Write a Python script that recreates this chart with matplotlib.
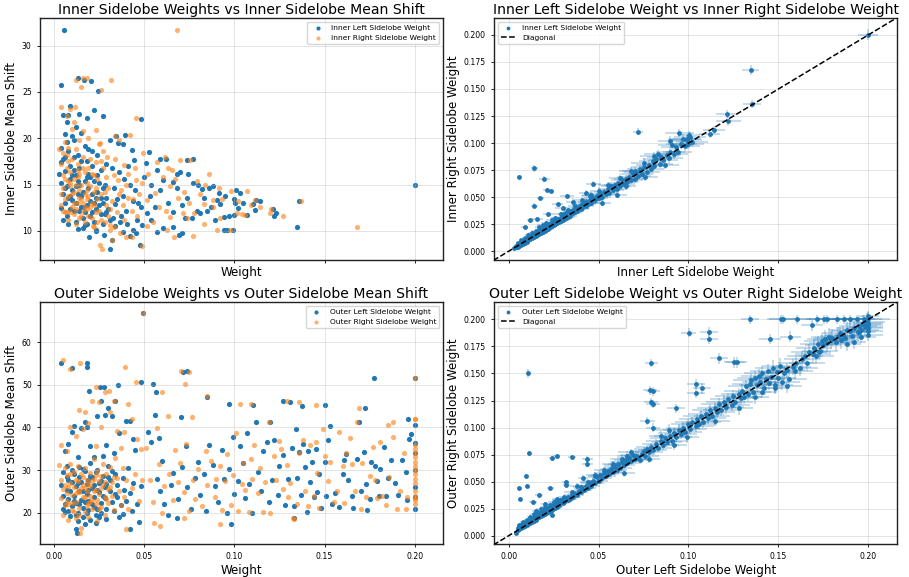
import matplotlib
matplotlib.use("Agg")
import matplotlib.pyplot as plt
import numpy as np

# ── top-left: inner sidelobe weight vs mean shift ────────────────────────────
inner_left_pts = [
    (0.0056, 31.7), (0.0041, 25.75), (0.013, 26.5), (0.0167, 26.3), (0.0207, 26.2),
    (0.0241, 25.1), (0.022, 23.05), (0.0272, 22.4), (0.0483, 22.05), (0.0087, 23.5),
    (0.0052, 22.5), (0.0139, 22.6), (0.0183, 22.2), (0.0343, 20.3), (0.0396, 20.35),
    (0.0352, 19.5), (0.038, 19.4), (0.043, 18.7), (0.0443, 17.7), (0.0526, 18.5),
    (0.0587, 17.8), (0.0619, 17.8), (0.0769, 17.8), (0.0735, 17.65), (0.0509, 17.3),
    (0.0569, 16.6), (0.0683, 16.15), (0.0744, 16.2), (0.07, 16.4), (0.0661, 15.3),
    (0.0606, 15.5), (0.054, 15.0), (0.0796, 15.0), (0.0883, 14.8), (0.082, 14.5),
    (0.0913, 14.1), (0.101, 14.4), (0.103, 14.1), (0.1, 13.4), (0.1006, 13.0),
    (0.102, 12.45), (0.1, 11.7), (0.0943, 11.55), (0.0994, 10.1), (0.0957, 10.1),
    (0.094, 10.1), (0.112, 13.3), (0.1143, 13.25), (0.1106, 12.9), (0.1117, 12.25),
    (0.1213, 12.4), (0.1217, 11.6), (0.123, 11.9), (0.107, 11.7), (0.1348, 10.4),
    (0.1356, 13.25), (0.2, 15.0), (0.0902, 13.35), (0.0869, 12.6), (0.085, 12.1),
    (0.081, 11.9), (0.0763, 11.4), (0.0726, 11.4), (0.0707, 9.75), (0.066, 10.4),
    (0.0694, 9.6), (0.0606, 10.3), (0.0569, 9.85), (0.054, 11.2), (0.0513, 11.9),
    (0.0467, 13.0), (0.0476, 8.5), (0.0309, 8.0), (0.0319, 9.0), (0.0276, 9.57),
    (0.0194, 9.3), (0.0235, 10.1), (0.0161, 10.3), (0.0383, 9.93), (0.042, 9.46),
    (0.0457, 9.75), (0.0439, 10.1), (0.0402, 10.8), (0.0365, 11.0), (0.0337, 10.5),
    (0.0328, 11.4),
    (0.004, 19.0), (0.005, 17.8), (0.006, 16.5), (0.004, 15.2), (0.005, 14.0),
    (0.006, 13.0), (0.004, 12.5), (0.007, 11.6), (0.008, 10.8), (0.006, 20.5),
    (0.007, 21.8), (0.008, 18.6), (0.009, 17.0), (0.009, 15.6), (0.010, 14.4),
    (0.010, 13.3), (0.011, 12.1), (0.012, 11.0), (0.013, 10.2), (0.011, 19.8),
    (0.012, 21.2), (0.013, 18.2), (0.014, 16.8), (0.014, 15.0), (0.015, 13.8),
    (0.016, 12.6), (0.016, 11.4), (0.017, 10.6), (0.015, 20.6), (0.017, 19.2),
    (0.018, 17.6), (0.019, 16.2), (0.019, 14.6), (0.020, 13.2), (0.021, 12.0),
    (0.022, 11.0), (0.023, 10.0), (0.021, 17.0), (0.022, 15.4), (0.024, 14.2),
    (0.025, 12.8), (0.026, 11.8), (0.027, 10.8), (0.024, 18.2), (0.026, 16.6),
    (0.028, 15.0), (0.029, 13.6), (0.030, 12.4), (0.031, 11.2), (0.008, 22.5),
    (0.010, 20.2), (0.012, 16.0), (0.013, 14.0), (0.018, 12.8), (0.020, 15.8),
    (0.023, 13.6), (0.027, 13.0), (0.029, 17.2), (0.031, 19.8), (0.033, 14.6),
    (0.034, 12.9), (0.036, 16.4), (0.038, 13.8), (0.040, 12.2), (0.042, 15.0),
    (0.044, 13.2), (0.046, 11.2), (0.005, 11.2), (0.009, 12.4), (0.007, 14.8),
    (0.011, 16.6), (0.015, 17.5), (0.019, 18.8), (0.014, 12.1), (0.018, 10.8),
    (0.022, 13.0), (0.003, 16.2), (0.006, 18.0), (0.008, 13.6), (0.012, 14.8),
    (0.017, 15.4), (0.021, 14.0), (0.025, 15.2), (0.028, 11.8),
    (0.004, 17.4), (0.006, 14.6), (0.007, 19.6), (0.009, 13.8), (0.010, 16.0),
    (0.011, 18.0), (0.012, 13.0), (0.013, 15.4), (0.015, 12.6), (0.016, 14.2),
    (0.017, 12.0), (0.018, 15.8), (0.020, 11.6), (0.021, 18.6), (0.023, 12.4),
    (0.024, 16.0), (0.026, 13.6), (0.027, 14.6), (0.029, 12.0), (0.032, 16.8),
    (0.035, 13.4), (0.037, 11.6), (0.039, 15.6), (0.041, 17.0), (0.045, 14.4),
    (0.048, 12.6), (0.050, 15.8), (0.049, 10.6),
    (0.053, 13.8), (0.056, 12.6), (0.059, 14.4), (0.063, 13.0), (0.066, 12.0),
    (0.068, 14.6), (0.071, 12.8), (0.074, 13.6), (0.077, 15.2), (0.079, 12.2),
    (0.083, 13.6), (0.086, 14.6), (0.089, 11.2), (0.092, 12.9), (0.095, 13.8),
    (0.097, 11.6), (0.105, 13.0),
]

inner_right_pts = [
    (0.0681, 31.7), (0.1678, 10.4), (0.1369, 13.25), (0.1269, 11.6), (0.1198, 11.9),
    (0.1202, 12.35), (0.1143, 12.6), (0.1069, 14.35), (0.1115, 13.35), (0.1093, 12.8),
    (0.1059, 11.7), (0.1013, 11.9), (0.0976, 10.1), (0.0902, 10.1), (0.0861, 16.15),
    (0.0913, 14.6), (0.0837, 15.0), (0.0883, 13.35), (0.0809, 14.0), (0.0778, 11.9),
    (0.0831, 10.7), (0.0772, 9.46), (0.0665, 9.3), (0.0624, 10.1), (0.0643, 11.55),
    (0.0713, 11.9), (0.0735, 11.4), (0.0754, 17.65), (0.0698, 17.7), (0.0615, 17.95),
    (0.0656, 16.6), (0.0606, 15.85), (0.0643, 14.8), (0.0559, 14.1), (0.0513, 13.35),
    (0.0494, 18.4), (0.0457, 22.15), (0.042, 20.35), (0.0337, 20.2), (0.0263, 25.2),
    (0.0315, 26.3), (0.0161, 26.5), (0.0183, 26.5), (0.0152, 25.5), (0.012, 26.3),
    (0.0041, 23.35), (0.0115, 23.4), (0.0235, 20.85), (0.0254, 19.45), (0.0291, 18.0),
    (0.0387, 17.1), (0.0411, 16.2), (0.0356, 15.5), (0.0457, 15.5), (0.0254, 8.5),
    (0.0268, 8.0), (0.0319, 9.0), (0.0398, 9.3), (0.0435, 9.3), (0.0485, 8.4),
    (0.0365, 9.75), (0.0309, 10.1), (0.0513, 10.5), (0.055, 11.0), (0.0217, 10.5),
    (0.003, 18.8), (0.004, 17.2), (0.005, 16.0), (0.005, 14.6), (0.006, 13.4),
    (0.004, 12.8), (0.007, 12.0), (0.008, 11.2), (0.006, 19.6), (0.007, 22.4),
    (0.008, 17.6), (0.009, 16.4), (0.009, 15.2), (0.010, 14.0), (0.011, 13.0),
    (0.011, 11.8), (0.012, 10.8), (0.010, 21.0), (0.012, 18.8), (0.013, 17.2),
    (0.013, 15.8), (0.014, 14.4), (0.015, 13.4), (0.016, 12.2), (0.017, 11.0),
    (0.014, 19.8), (0.016, 18.0), (0.017, 16.4), (0.018, 15.2), (0.019, 13.8),
    (0.020, 12.6), (0.021, 11.4), (0.022, 10.4), (0.020, 17.8), (0.022, 16.0),
    (0.023, 14.6), (0.024, 13.4), (0.025, 12.2), (0.026, 11.2), (0.025, 19.4),
    (0.027, 16.8), (0.028, 14.2), (0.029, 12.8), (0.030, 11.6), (0.031, 10.6),
    (0.009, 23.2), (0.011, 21.8), (0.008, 13.8), (0.012, 15.0), (0.015, 11.6),
    (0.018, 12.4), (0.019, 20.0), (0.021, 13.0), (0.024, 15.6), (0.027, 18.6),
    (0.030, 14.6), (0.032, 13.2), (0.034, 17.8), (0.035, 12.0), (0.037, 14.4),
    (0.039, 11.2), (0.041, 13.6), (0.043, 12.2), (0.045, 16.8), (0.047, 14.0),
    (0.006, 15.6), (0.010, 12.6), (0.013, 13.0), (0.017, 14.0), (0.023, 12.0),
    (0.028, 11.0), (0.033, 10.4), (0.036, 19.8), (0.016, 20.8), (0.007, 18.2),
    (0.005, 12.2), (0.009, 14.8), (0.014, 16.2), (0.018, 13.4), (0.022, 14.2),
    (0.004, 14.0), (0.005, 18.4), (0.006, 12.0), (0.007, 16.8), (0.008, 15.4),
    (0.008, 19.0), (0.009, 12.0), (0.010, 17.8), (0.011, 15.6), (0.011, 14.2),
    (0.012, 12.4), (0.013, 16.6), (0.014, 11.4), (0.014, 13.6), (0.015, 15.0),
    (0.016, 16.8), (0.016, 13.0), (0.017, 12.6), (0.018, 14.4), (0.019, 11.6),
    (0.019, 16.8), (0.020, 14.8), (0.021, 16.2), (0.022, 12.8), (0.023, 17.4),
    (0.024, 11.0), (0.026, 14.0), (0.026, 17.6), (0.029, 15.8), (0.031, 12.4),
    (0.033, 16.0), (0.036, 14.0), (0.038, 12.8), (0.040, 15.0), (0.044, 13.4),
    (0.046, 11.6), (0.049, 15.2),
    (0.052, 16.2), (0.057, 17.4), (0.063, 16.8), (0.067, 15.6), (0.072, 14.2),
    (0.075, 13.0), (0.058, 12.6), (0.062, 12.2), (0.069, 13.6), (0.079, 15.4),
    (0.083, 12.9), (0.088, 12.6), (0.093, 13.4), (0.098, 14.3), (0.102, 13.2),
    (0.104, 11.8), (0.092, 11.4),
]

# ── bottom-left: outer sidelobe weight vs mean shift ─────────────────────────
outer_left_pts = [
    (0.004, 26.5), (0.005, 24.0), (0.006, 22.0), (0.005, 29.5), (0.007, 31.0),
    (0.006, 20.2), (0.008, 27.8), (0.009, 25.0), (0.008, 23.2), (0.010, 21.5),
    (0.009, 19.2), (0.011, 29.0), (0.012, 26.2), (0.011, 24.0), (0.012, 22.4),
    (0.013, 20.0), (0.013, 18.0), (0.014, 30.8), (0.015, 27.2), (0.014, 25.2),
    (0.015, 23.0), (0.016, 21.2), (0.016, 19.0), (0.017, 17.4), (0.017, 29.8),
    (0.018, 26.8), (0.018, 24.5), (0.019, 22.8), (0.019, 20.6), (0.020, 18.4),
    (0.020, 31.6), (0.021, 28.4), (0.021, 25.8), (0.022, 23.6), (0.022, 21.4),
    (0.023, 19.4), (0.023, 17.6), (0.024, 30.0), (0.025, 27.0), (0.025, 24.8),
    (0.026, 22.2), (0.026, 20.0), (0.027, 33.4), (0.027, 28.6), (0.028, 26.0),
    (0.028, 23.4), (0.029, 21.0), (0.029, 18.6), (0.030, 31.0), (0.031, 27.6),
    (0.031, 25.0), (0.032, 22.6), (0.033, 20.4), (0.033, 34.0), (0.034, 29.0),
    (0.035, 26.4), (0.035, 23.8), (0.036, 19.0), (0.037, 21.8), (0.038, 28.2),
    (0.039, 25.4), (0.040, 22.8), (0.041, 30.4), (0.042, 24.6), (0.043, 20.4),
    (0.044, 27.0), (0.045, 34.8), (0.046, 22.0), (0.047, 17.8), (0.048, 26.2),
    (0.006, 34.6), (0.008, 36.2), (0.010, 39.0), (0.011, 40.4), (0.013, 33.0),
    (0.015, 39.8), (0.017, 41.2), (0.018, 40.2), (0.020, 35.6), (0.022, 33.0),
    (0.024, 42.8), (0.026, 46.2), (0.028, 43.0), (0.029, 35.8), (0.030, 44.6),
    (0.032, 42.6), (0.034, 46.2), (0.036, 38.8), (0.040, 41.6), (0.042, 41.6),
    (0.044, 37.2), (0.007, 25.4), (0.010, 27.2), (0.014, 22.0), (0.019, 27.6),
    (0.024, 21.0), (0.030, 28.4),
    (0.005, 21.0), (0.007, 28.4), (0.008, 20.4), (0.010, 30.0), (0.011, 22.8),
    (0.012, 19.4), (0.013, 27.0), (0.014, 28.4), (0.016, 25.0), (0.016, 30.2),
    (0.017, 22.6), (0.018, 20.0), (0.019, 25.4), (0.020, 28.6), (0.021, 22.0),
    (0.022, 26.6), (0.023, 29.6), (0.024, 25.4), (0.025, 19.0), (0.026, 27.4),
    (0.027, 24.0), (0.029, 26.8), (0.032, 29.8), (0.034, 24.4), (0.038, 19.8),
    (0.0037, 55.0), (0.0102, 54.0), (0.0185, 55.2), (0.0185, 54.2), (0.0194, 48.5),
    (0.0254, 49.4), (0.0278, 49.4), (0.0356, 50.0), (0.0481, 50.7), (0.0548, 50.3),
    (0.0563, 48.4), (0.0715, 53.0), (0.0735, 53.2), (0.0702, 42.4), (0.085, 47.2),
    (0.0969, 45.6), (0.1106, 45.2), (0.1269, 46.3), (0.131, 45.9), (0.1376, 45.1),
    (0.1504, 45.2), (0.1772, 51.5), (0.1726, 44.5), (0.2, 51.5), (0.1963, 41.9),
    (0.2, 40.5), (0.0494, 66.8), (0.0128, 15.2), (0.042, 16.1), (0.012, 16.1),
    (0.1735, 20.6), (0.2, 20.9), (0.0981, 17.3), (0.1333, 18.7),
    (0.052, 39.0), (0.054, 36.6), (0.056, 43.0), (0.058, 37.6), (0.060, 32.2),
    (0.057, 28.0), (0.059, 25.0), (0.061, 22.0), (0.063, 19.6), (0.065, 26.4),
    (0.066, 29.4), (0.068, 18.8), (0.069, 23.2), (0.071, 30.8), (0.073, 35.6),
    (0.074, 26.0), (0.076, 20.8), (0.078, 28.2), (0.080, 32.0), (0.081, 24.2),
    (0.083, 29.0), (0.084, 20.4), (0.086, 36.0), (0.088, 31.2), (0.089, 26.2),
    (0.091, 22.6), (0.093, 34.8), (0.094, 28.0), (0.096, 20.0), (0.097, 30.2),
    (0.099, 37.8), (0.100, 24.4), (0.102, 27.4), (0.103, 35.6), (0.105, 31.6),
    (0.106, 23.4), (0.107, 38.6), (0.108, 26.8), (0.110, 20.0), (0.112, 41.2),
    (0.113, 29.6), (0.115, 25.2), (0.116, 34.6), (0.118, 36.6), (0.119, 22.6),
    (0.120, 41.2), (0.121, 27.8), (0.122, 37.0), (0.124, 24.2), (0.125, 31.0),
    (0.127, 33.6), (0.128, 21.8), (0.130, 28.0), (0.132, 35.2), (0.133, 21.6),
    (0.134, 39.6), (0.135, 28.2), (0.136, 34.2), (0.137, 24.2), (0.138, 36.2),
    (0.139, 30.8), (0.140, 20.2), (0.141, 34.6), (0.142, 27.2), (0.143, 31.8),
    (0.144, 23.8), (0.145, 35.0), (0.146, 24.8), (0.147, 29.2), (0.148, 21.2),
    (0.150, 32.0), (0.151, 24.0), (0.152, 37.0), (0.153, 40.4), (0.154, 22.0),
    (0.156, 24.6), (0.158, 21.4), (0.160, 29.0), (0.161, 32.4), (0.162, 33.8),
    (0.163, 27.6), (0.165, 24.0), (0.166, 21.2), (0.168, 32.6), (0.169, 41.2),
    (0.170, 25.0), (0.172, 34.2), (0.173, 26.8), (0.175, 23.2), (0.176, 31.8),
    (0.178, 31.0), (0.179, 27.4), (0.180, 24.0), (0.181, 30.2), (0.183, 35.4),
    (0.184, 24.0), (0.185, 28.2), (0.187, 32.4), (0.189, 27.0), (0.191, 24.2),
    (0.193, 32.4), (0.195, 29.6), (0.196, 23.0), (0.197, 37.2), (0.198, 38.4),
    (0.2, 36.4), (0.2, 30.0), (0.2, 26.0), (0.2, 23.6), (0.2, 34.0),
]

outer_right_pts = [
    (0.003, 31.2), (0.004, 23.4), (0.004, 27.8), (0.005, 25.6), (0.006, 30.4),
    (0.006, 21.8), (0.007, 28.8), (0.007, 24.6), (0.008, 22.0), (0.008, 18.4),
    (0.009, 31.4), (0.009, 27.0), (0.010, 24.2), (0.010, 20.6), (0.011, 29.6),
    (0.011, 26.0), (0.012, 22.6), (0.012, 18.8), (0.013, 31.0), (0.013, 27.4),
    (0.014, 24.8), (0.014, 21.2), (0.015, 16.4), (0.015, 29.2), (0.016, 26.4),
    (0.016, 23.6), (0.017, 20.2), (0.017, 30.6), (0.018, 27.8), (0.018, 25.0),
    (0.019, 22.4), (0.019, 19.0), (0.020, 29.4), (0.020, 26.2), (0.021, 23.0),
    (0.021, 20.8), (0.022, 32.6), (0.022, 28.0), (0.023, 25.4), (0.023, 22.0),
    (0.024, 18.0), (0.024, 29.8), (0.025, 27.4), (0.025, 24.4), (0.026, 21.4),
    (0.027, 31.4), (0.027, 26.6), (0.028, 23.8), (0.028, 19.6), (0.029, 29.0),
    (0.030, 25.6), (0.030, 22.4), (0.031, 30.8), (0.032, 27.2), (0.032, 24.0),
    (0.033, 20.6), (0.034, 32.8), (0.035, 28.2), (0.036, 25.2), (0.037, 21.8),
    (0.038, 30.6), (0.039, 23.6), (0.040, 27.8), (0.041, 20.8), (0.043, 25.8),
    (0.045, 29.2), (0.047, 22.8), (0.049, 27.6), (0.006, 26.6), (0.012, 24.6),
    (0.017, 25.8), (0.020, 22.6), (0.026, 28.6),
    (0.005, 19.6), (0.007, 22.8), (0.008, 26.0), (0.009, 29.0), (0.010, 22.4),
    (0.011, 20.2), (0.012, 27.8), (0.013, 25.2), (0.014, 19.4), (0.015, 25.8),
    (0.016, 28.4), (0.017, 23.8), (0.018, 21.6), (0.019, 26.8), (0.020, 24.0),
    (0.021, 27.4), (0.022, 25.0), (0.023, 28.8), (0.024, 23.0), (0.025, 20.8),
    (0.026, 25.8), (0.028, 27.2), (0.029, 23.2), (0.031, 26.0), (0.033, 28.4),
    (0.004, 36.0), (0.007, 34.6), (0.009, 40.2), (0.012, 38.0), (0.014, 44.2),
    (0.016, 39.6), (0.017, 43.6), (0.019, 41.0), (0.021, 46.2), (0.023, 35.6),
    (0.025, 46.0), (0.026, 40.0), (0.028, 48.2), (0.031, 43.6), (0.033, 46.2),
    (0.035, 39.2), (0.037, 35.2), (0.039, 39.0), (0.041, 45.4), (0.043, 42.0),
    (0.046, 37.4), (0.048, 35.0),
    (0.0048, 55.8), (0.0143, 55.2), (0.0087, 53.6), (0.0394, 54.2), (0.0704, 53.2),
    (0.0746, 52.9), (0.0728, 50.1), (0.0454, 50.7), (0.0235, 49.5), (0.0302, 48.5),
    (0.0596, 48.3), (0.085, 47.3), (0.1031, 45.4), (0.1091, 45.6), (0.1294, 46.2),
    (0.1361, 45.9), (0.145, 45.2), (0.1693, 44.5), (0.2, 51.5), (0.2, 41.9),
    (0.0763, 42.5), (0.092, 17.3), (0.0719, 18.7), (0.1324, 18.7), (0.0143, 15.2),
    (0.0398, 16.1), (0.0494, 66.8), (0.0555, 17.5), (0.0585, 17.0),
    (0.051, 35.2), (0.053, 27.8), (0.055, 22.6), (0.057, 39.8), (0.058, 31.4),
    (0.060, 20.0), (0.061, 26.2), (0.063, 42.8), (0.064, 29.0), (0.066, 23.0),
    (0.067, 34.8), (0.069, 27.2), (0.070, 31.6), (0.072, 24.8), (0.073, 36.2),
    (0.075, 20.4), (0.077, 27.8), (0.078, 23.2), (0.080, 30.2), (0.082, 21.6),
    (0.084, 34.4), (0.085, 26.6), (0.087, 32.2), (0.089, 23.6), (0.090, 28.0),
    (0.092, 31.0), (0.093, 20.6), (0.095, 27.4), (0.096, 33.8), (0.098, 21.8),
    (0.099, 28.8), (0.101, 38.6), (0.102, 20.4), (0.104, 26.8), (0.105, 31.6),
    (0.106, 25.4), (0.108, 20.2), (0.109, 32.6), (0.110, 28.0), (0.111, 36.0),
    (0.113, 24.6), (0.114, 30.6), (0.116, 20.2), (0.117, 27.2), (0.119, 41.2),
    (0.120, 20.0), (0.122, 33.2), (0.123, 27.6), (0.125, 36.8), (0.126, 35.0),
    (0.127, 25.6), (0.129, 31.2), (0.130, 23.8), (0.131, 27.0), (0.133, 18.6),
    (0.135, 22.0), (0.136, 34.0), (0.138, 37.0), (0.139, 25.2), (0.141, 21.6),
    (0.142, 35.8), (0.144, 24.0), (0.145, 36.6), (0.146, 29.4), (0.147, 21.2),
    (0.149, 39.6), (0.150, 33.2), (0.152, 27.4), (0.153, 32.0), (0.155, 22.6),
    (0.157, 25.2), (0.158, 39.0), (0.160, 31.0), (0.161, 22.2), (0.162, 34.0),
    (0.164, 37.6), (0.165, 31.4), (0.167, 25.0), (0.168, 41.2), (0.170, 20.8),
    (0.171, 31.6), (0.173, 23.6), (0.175, 28.6), (0.177, 35.4), (0.178, 27.6),
    (0.179, 23.4), (0.181, 36.6), (0.182, 24.0), (0.184, 21.8), (0.185, 40.6),
    (0.186, 28.4), (0.188, 41.2), (0.188, 37.8), (0.190, 21.0), (0.192, 25.2),
    (0.194, 34.0), (0.195, 21.0), (0.196, 23.8), (0.2, 42.0), (0.2, 36.0),
    (0.2, 35.0), (0.2, 34.0), (0.2, 33.0), (0.2, 32.0), (0.2, 31.0), (0.2, 30.0),
    (0.2, 29.0), (0.2, 28.0), (0.2, 27.0), (0.2, 25.0), (0.2, 24.0), (0.2, 23.4),
    (0.2, 23.0), (0.2, 22.0),
]

# ── right column: left weight, right weight, x error, y error ────────────────
inner_lr_pts = [
    (0.003, 0.003, .001, .001), (0.004, 0.0035, .001, .001), (0.004, 0.005, .001, .001),
    (0.005, 0.004, .001, .001), (0.005, 0.006, .001, .001), (0.006, 0.005, .001, .001),
    (0.006, 0.007, .001, .001), (0.007, 0.006, .001, .001), (0.007, 0.008, .001, .001),
    (0.008, 0.007, .0015, .001), (0.008, 0.009, .0015, .001), (0.009, 0.008, .0015, .001),
    (0.009, 0.010, .0015, .001), (0.010, 0.009, .002, .001), (0.010, 0.011, .002, .001),
    (0.011, 0.010, .002, .001), (0.011, 0.0125, .002, .001), (0.012, 0.011, .002, .0015),
    (0.012, 0.0135, .002, .0015), (0.013, 0.012, .002, .0015), (0.013, 0.0145, .002, .0015),
    (0.014, 0.013, .002, .0015), (0.014, 0.0155, .002, .0015), (0.015, 0.014, .0025, .0015),
    (0.015, 0.0165, .0025, .0015), (0.016, 0.015, .0025, .0015), (0.016, 0.0175, .0025, .0015),
    (0.017, 0.016, .0025, .0015), (0.017, 0.019, .0025, .0015), (0.018, 0.017, .0025, .0015),
    (0.018, 0.020, .0025, .0015), (0.019, 0.018, .003, .0015), (0.019, 0.021, .003, .0015),
    (0.020, 0.019, .003, .0015), (0.020, 0.022, .003, .0015), (0.021, 0.020, .003, .0015),
    (0.021, 0.023, .003, .002), (0.022, 0.021, .003, .002), (0.022, 0.024, .003, .002),
    (0.023, 0.022, .003, .002), (0.023, 0.025, .003, .002), (0.024, 0.023, .003, .002),
    (0.024, 0.026, .003, .002), (0.025, 0.024, .003, .002), (0.025, 0.027, .003, .002),
    (0.026, 0.025, .003, .002), (0.026, 0.028, .003, .002), (0.027, 0.026, .003, .002),
    (0.027, 0.029, .003, .002), (0.028, 0.027, .0035, .002), (0.028, 0.030, .0035, .002),
    (0.029, 0.028, .0035, .002), (0.029, 0.031, .0035, .002), (0.030, 0.029, .0035, .002),
    (0.030, 0.032, .0035, .002), (0.031, 0.030, .0035, .002), (0.031, 0.034, .0035, .002),
    (0.032, 0.031, .0035, .002), (0.032, 0.035, .004, .002), (0.033, 0.032, .004, .002),
    (0.034, 0.036, .004, .0025), (0.034, 0.033, .004, .0025), (0.035, 0.037, .004, .0025),
    (0.036, 0.035, .004, .0025), (0.036, 0.038, .004, .0025), (0.037, 0.036, .004, .0025),
    (0.038, 0.040, .004, .0025), (0.038, 0.037, .004, .0025), (0.039, 0.041, .004, .0025),
    (0.040, 0.039, .0045, .0025), (0.040, 0.043, .0045, .0025), (0.041, 0.040, .0045, .0025),
    (0.042, 0.044, .0045, .0025), (0.043, 0.042, .0045, .0025), (0.043, 0.046, .0045, .003),
    (0.044, 0.044, .0045, .003), (0.045, 0.047, .005, .003), (0.046, 0.045, .005, .003),
    (0.047, 0.049, .005, .003), (0.048, 0.047, .005, .003), (0.049, 0.051, .005, .003),
    (0.050, 0.049, .005, .003), (0.051, 0.053, .005, .003), (0.052, 0.050, .005, .003),
    (0.053, 0.055, .0055, .003), (0.054, 0.053, .0055, .003), (0.055, 0.058, .0055, .003),
    (0.056, 0.054, .0055, .003), (0.057, 0.060, .0055, .003), (0.058, 0.057, .006, .003),
    (0.059, 0.061, .006, .003), (0.060, 0.058, .006, .003), (0.061, 0.063, .006, .0035),
    (0.062, 0.060, .006, .0035), (0.063, 0.066, .006, .0035), (0.064, 0.062, .006, .0035),
    (0.065, 0.067, .0065, .0035), (0.066, 0.064, .0065, .0035), (0.067, 0.069, .0065, .0035),
    (0.068, 0.066, .0065, .0035), (0.069, 0.071, .0065, .0035), (0.070, 0.067, .0065, .0035),
    (0.071, 0.073, .007, .0035), (0.072, 0.070, .007, .0035), (0.073, 0.076, .007, .004),
    (0.074, 0.071, .007, .004), (0.075, 0.078, .007, .004), (0.077, 0.073, .007, .004),
    (0.078, 0.080, .007, .004), (0.079, 0.076, .0075, .004), (0.080, 0.083, .0075, .004),
    (0.081, 0.079, .0075, .004), (0.082, 0.085, .0075, .004), (0.084, 0.081, .0075, .004),
    (0.085, 0.087, .008, .004), (0.086, 0.084, .008, .004), (0.088, 0.089, .008, .004),
    (0.089, 0.086, .008, .004), (0.090, 0.092, .008, .0045), (0.092, 0.090, .008, .0045),
    (0.093, 0.096, .008, .0045), (0.094, 0.092, .008, .0045), (0.096, 0.099, .0085, .0045),
    (0.098, 0.097, .0085, .0045), (0.099, 0.103, .0085, .0045), (0.100, 0.099, .0085, .0045),
    (0.101, 0.106, .009, .0045), (0.102, 0.101, .009, .0045),
    (0.005, 0.008, .001, .001), (0.007, 0.010, .001, .001), (0.009, 0.012, .0015, .001),
    (0.011, 0.015, .002, .001), (0.013, 0.017, .002, .0015), (0.015, 0.019, .0025, .0015),
    (0.017, 0.022, .0025, .0015), (0.019, 0.024, .003, .0015), (0.021, 0.026, .003, .002),
    (0.024, 0.029, .003, .002), (0.026, 0.031, .003, .002), (0.029, 0.034, .0035, .002),
    (0.033, 0.038, .004, .002), (0.037, 0.042, .004, .0025), (0.041, 0.047, .0045, .0025),
    (0.045, 0.051, .005, .003), (0.050, 0.056, .005, .003), (0.055, 0.061, .0055, .003),
    (0.062, 0.068, .006, .0035), (0.068, 0.074, .0065, .0035), (0.075, 0.082, .007, .004),
    (0.083, 0.090, .0075, .004), (0.091, 0.098, .008, .0045), (0.097, 0.104, .0085, .0045),
    (0.0056, 0.0684, .001, .002), (0.0143, 0.0767, .002, .003), (0.0198, 0.0666, .003, .003),
    (0.0213, 0.0567, .002, .002), (0.0235, 0.0555, .002, .002), (0.0176, 0.049, .002, .002),
    (0.0143, 0.0422, .002, .002), (0.0272, 0.0435, .003, .002), (0.0324, 0.0512, .004, .002),
    (0.0431, 0.054, .004, .003), (0.0472, 0.0623, .004, .003), (0.012, 0.0287, .002, .002),
    (0.009, 0.022, .002, .0015), (0.016, 0.030, .003, .002), (0.022, 0.034, .003, .002),
    (0.030, 0.040, .004, .002), (0.036, 0.046, .004, .003), (0.046, 0.052, .005, .003),
    (0.052, 0.045, .005, .003), (0.060, 0.052, .006, .003), (0.065, 0.060, .006, .003),
    (0.070, 0.074, .007, .004), (0.076, 0.069, .007, .004), (0.081, 0.088, .008, .004),
    (0.087, 0.080, .008, .004), (0.0719, 0.1106, .003, .003), (0.095, 0.1094, .008, .004),
    (0.0991, 0.1038, .008, .004), (0.1002, 0.1075, .006, .004), (0.0898, 0.1023, .007, .004),
    (0.1117, 0.1085, .006, .004), (0.1143, 0.1122, .006, .004), (0.1213, 0.127, .006, .004),
    (0.1222, 0.1202, .007, .004), (0.1346, 0.1676, .0046, .005), (0.1352, 0.1362, .005, .004),
    (0.2, 0.2, .0056, .005),
]

outer_lr_pts = [
    (0.004, 0.003, .001, .001), (0.005, 0.005, .001, .001), (0.005, 0.007, .001, .001),
    (0.006, 0.006, .001, .001), (0.006, 0.009, .001, .001), (0.007, 0.007, .001, .001),
    (0.007, 0.010, .001, .001), (0.008, 0.008, .0015, .001), (0.008, 0.011, .0015, .001),
    (0.009, 0.009, .0015, .001), (0.009, 0.012, .0015, .001), (0.010, 0.010, .0015, .001),
    (0.010, 0.013, .0015, .001), (0.011, 0.011, .002, .001), (0.011, 0.014, .002, .001),
    (0.012, 0.012, .002, .001), (0.012, 0.015, .002, .001), (0.013, 0.013, .002, .001),
    (0.013, 0.016, .002, .001), (0.014, 0.014, .002, .001), (0.014, 0.017, .002, .001),
    (0.015, 0.015, .002, .0015), (0.015, 0.018, .002, .0015), (0.016, 0.016, .002, .0015),
    (0.016, 0.019, .002, .0015), (0.017, 0.017, .0025, .0015), (0.017, 0.020, .0025, .0015),
    (0.018, 0.018, .0025, .0015), (0.018, 0.022, .0025, .0015), (0.019, 0.019, .0025, .0015),
    (0.019, 0.023, .0025, .0015), (0.020, 0.020, .0025, .0015), (0.020, 0.024, .0025, .0015),
    (0.021, 0.021, .003, .0015), (0.021, 0.025, .003, .0015), (0.022, 0.022, .003, .0015),
    (0.022, 0.026, .003, .0015), (0.023, 0.023, .003, .0015), (0.024, 0.027, .003, .0015),
    (0.024, 0.024, .003, .0015), (0.025, 0.029, .003, .002), (0.026, 0.026, .003, .002),
    (0.026, 0.030, .003, .002), (0.027, 0.027, .003, .002), (0.028, 0.031, .003, .002),
    (0.028, 0.028, .003, .002), (0.029, 0.033, .0035, .002), (0.030, 0.030, .0035, .002),
    (0.030, 0.034, .0035, .002), (0.031, 0.031, .0035, .002), (0.032, 0.035, .0035, .002),
    (0.033, 0.033, .0035, .002), (0.033, 0.036, .0035, .002), (0.034, 0.034, .004, .002),
    (0.035, 0.038, .004, .002), (0.036, 0.036, .004, .002), (0.037, 0.039, .004, .002),
    (0.038, 0.038, .004, .002), (0.039, 0.041, .004, .0025), (0.040, 0.040, .004, .0025),
    (0.041, 0.043, .0045, .0025), (0.042, 0.042, .0045, .0025), (0.043, 0.046, .0045, .0025),
    (0.044, 0.044, .0045, .0025), (0.045, 0.049, .0045, .0025), (0.046, 0.046, .005, .0025),
    (0.047, 0.051, .005, .0025), (0.048, 0.049, .005, .0025), (0.049, 0.054, .005, .003),
    (0.050, 0.051, .005, .003), (0.051, 0.056, .005, .003), (0.052, 0.053, .0055, .003),
    (0.053, 0.058, .0055, .003), (0.054, 0.055, .0055, .003), (0.055, 0.060, .0055, .003),
    (0.056, 0.057, .0055, .003), (0.057, 0.062, .006, .003), (0.058, 0.059, .006, .003),
    (0.059, 0.064, .006, .003), (0.060, 0.061, .006, .003), (0.061, 0.066, .006, .0035),
    (0.062, 0.063, .0065, .0035), (0.063, 0.068, .0065, .0035), (0.064, 0.065, .0065, .0035),
    (0.065, 0.070, .0065, .0035), (0.066, 0.067, .0065, .0035), (0.067, 0.072, .007, .0035),
    (0.068, 0.069, .007, .0035), (0.069, 0.075, .007, .0035), (0.070, 0.071, .007, .0035),
    (0.071, 0.074, .007, .004), (0.072, 0.073, .007, .004), (0.073, 0.070, .0075, .004),
    (0.074, 0.076, .0075, .004), (0.075, 0.078, .0075, .004), (0.076, 0.074, .0075, .004),
    (0.077, 0.080, .0075, .004), (0.078, 0.077, .008, .004), (0.079, 0.082, .008, .004),
    (0.080, 0.079, .008, .004), (0.082, 0.085, .008, .004), (0.083, 0.081, .008, .004),
    (0.085, 0.088, .0085, .0045), (0.086, 0.084, .0085, .0045), (0.087, 0.090, .0085, .0045),
    (0.088, 0.087, .0085, .0045), (0.090, 0.092, .009, .0045), (0.091, 0.088, .009, .0045),
    (0.092, 0.095, .009, .0045), (0.093, 0.091, .009, .0045), (0.095, 0.098, .009, .005),
    (0.096, 0.094, .009, .005), (0.097, 0.100, .0095, .005), (0.098, 0.096, .0095, .005),
    (0.100, 0.103, .0095, .005), (0.101, 0.099, .0095, .005), (0.102, 0.105, .0095, .005),
    (0.104, 0.101, .01, .005), (0.105, 0.108, .01, .005), (0.106, 0.103, .01, .005),
    (0.107, 0.111, .01, .005), (0.108, 0.105, .01, .005), (0.110, 0.113, .01, .0055),
    (0.111, 0.109, .01, .0055), (0.112, 0.116, .01, .0055), (0.113, 0.111, .01, .0055),
    (0.115, 0.118, .01, .0055), (0.116, 0.114, .01, .0055), (0.117, 0.122, .01, .0055),
    (0.118, 0.116, .01, .0055), (0.120, 0.124, .01, .006), (0.121, 0.119, .01, .006),
    (0.122, 0.126, .01, .006), (0.124, 0.121, .01, .006), (0.125, 0.129, .01, .006),
    (0.126, 0.124, .01, .006), (0.128, 0.131, .01, .006), (0.129, 0.127, .01, .006),
    (0.130, 0.134, .01, .006), (0.131, 0.128, .01, .006), (0.132, 0.138, .01, .006),
    (0.133, 0.131, .01, .006), (0.134, 0.140, .01, .0065), (0.135, 0.144, .01, .0065),
    (0.136, 0.133, .01, .0065), (0.137, 0.146, .01, .0065), (0.138, 0.139, .01, .0065),
    (0.139, 0.148, .01, .0065), (0.140, 0.142, .01, .0065), (0.141, 0.150, .01, .0065),
    (0.142, 0.137, .01, .0065), (0.143, 0.145, .01, .0065), (0.144, 0.152, .01, .0065),
    (0.145, 0.141, .01, .0065), (0.146, 0.147, .01, .007), (0.147, 0.155, .01, .007),
    (0.148, 0.139, .01, .007), (0.149, 0.151, .01, .007), (0.150, 0.146, .01, .007),
    (0.151, 0.157, .01, .007), (0.152, 0.142, .01, .007), (0.153, 0.150, .01, .007),
    (0.155, 0.153, .01, .007), (0.156, 0.145, .01, .007), (0.158, 0.156, .01, .007),
    (0.159, 0.152, .01, .007), (0.160, 0.160, .01, .007), (0.162, 0.155, .01, .007),
    (0.163, 0.163, .01, .0075), (0.165, 0.166, .01, .0075), (0.166, 0.160, .01, .0075),
    (0.167, 0.170, .01, .0075), (0.169, 0.168, .01, .0075), (0.170, 0.174, .01, .0075),
    (0.171, 0.166, .01, .0075), (0.172, 0.177, .01, .0075), (0.173, 0.171, .01, .0075),
    (0.174, 0.180, .01, .0075), (0.175, 0.176, .01, .0075), (0.176, 0.182, .01, .008),
    (0.177, 0.178, .01, .008), (0.178, 0.184, .01, .008), (0.179, 0.181, .01, .008),
    (0.180, 0.183, .01, .008), (0.182, 0.179, .01, .008), (0.183, 0.185, .01, .008),
    (0.184, 0.187, .01, .008), (0.185, 0.181, .01, .008), (0.186, 0.186, .01, .008),
    (0.187, 0.183, .01, .008), (0.188, 0.190, .01, .008), (0.190, 0.189, .01, .008),
    (0.191, 0.185, .01, .008), (0.192, 0.192, .01, .008), (0.194, 0.188, .01, .008),
    (0.195, 0.194, .01, .008), (0.196, 0.190, .01, .008), (0.197, 0.196, .01, .008),
    (0.198, 0.193, .01, .008), (0.199, 0.198, .01, .008), (0.2, 0.2, .012, .008),
    (0.2, 0.197, .008, .006), (0.2, 0.195, .008, .006), (0.2, 0.192, .008, .006),
    (0.2, 0.189, .008, .006), (0.2, 0.186, .008, .006), (0.2, 0.203, .006, .004),
    (0.006, 0.010, .001, .001), (0.008, 0.013, .0015, .001), (0.010, 0.015, .0015, .001),
    (0.012, 0.017, .002, .001), (0.014, 0.020, .002, .0015), (0.016, 0.022, .002, .0015),
    (0.018, 0.025, .0025, .0015), (0.020, 0.027, .0025, .0015), (0.023, 0.028, .003, .0015),
    (0.025, 0.031, .003, .002), (0.027, 0.033, .003, .002), (0.031, 0.036, .0035, .002),
    (0.035, 0.040, .004, .002), (0.040, 0.045, .004, .0025), (0.044, 0.050, .0045, .0025),
    (0.048, 0.056, .005, .003), (0.053, 0.061, .0055, .003), (0.058, 0.066, .006, .003),
    (0.063, 0.071, .0065, .0035), (0.068, 0.077, .007, .0035),
    (0.0108, 0.1501, .001, .004), (0.0111, 0.0761, .001, .002), (0.0098, 0.0555, .001, .002),
    (0.0102, 0.0459, .001, .002), (0.0058, 0.0438, .001, .002), (0.0061, 0.0342, .001, .002),
    (0.0243, 0.0715, .002, .002), (0.0267, 0.0733, .002, .002), (0.0353, 0.0727, .002, .002),
    (0.0318, 0.0499, .002, .002), (0.0321, 0.0468, .002, .002), (0.0232, 0.0441, .002, .002),
    (0.0169, 0.0376, .002, .002), (0.0136, 0.0311, .002, .002), (0.0438, 0.0706, .003, .003),
    (0.0438, 0.0663, .003, .003), (0.0414, 0.053, .003, .003), (0.0793, 0.16, .0037, .0037),
    (0.0786, 0.1344, .004, .004), (0.0804, 0.1334, .004, .004), (0.0793, 0.1233, .004, .004),
    (0.0804, 0.1217, .004, .004), (0.0772, 0.106, .004, .004), (0.0804, 0.0998, .004, .004),
    (0.1001, 0.1877, .004, .004), (0.1116, 0.1883, .005, .005), (0.1116, 0.1818, .005, .005),
    (0.1172, 0.164, .005, .005), (0.1255, 0.1603, .006, .005), (0.1268, 0.1603, .006, .005),
    (0.1343, 0.2, .005, .004), (0.1454, 0.1818, .006, .005), (0.1566, 0.184, .006, .005),
    (0.1042, 0.1402, .005, .005), (0.1042, 0.1322, .005, .005), (0.1077, 0.1362, .005, .005),
    (0.093, 0.1177, .005, .004), (0.1514, 0.2, .008, .004), (0.1528, 0.2, .008, .004),
    (0.1603, 0.2, .008, .004), (0.1715, 0.2, .01, .004), (0.1751, 0.2, .01, .004),
    (0.1770, 0.2, .01, .004), (0.1826, 0.2, .01, .004), (0.1863, 0.2, .01, .004),
    (0.1900, 0.2, .01, .004), (0.1937, 0.2, .01, .004), (0.1974, 0.2, .01, .004),
    (0.1686, 0.1945, .006, .005), (0.1947, 0.1886, .007, .006), (0.1919, 0.1787, .007, .006),
    (0.1724, 0.1701, .007, .006), (0.196, 0.184, .008, .006), (0.188, 0.177, .008, .006),
    (0.141, 0.133, .008, .006), (0.148, 0.137, .008, .006), (0.155, 0.138, .008, .006),
    (0.137, 0.128, .008, .006), (0.128, 0.118, .008, .006), (0.115, 0.106, .008, .005),
    (0.099, 0.091, .007, .005), (0.092, 0.084, .007, .005), (0.085, 0.092, .007, .005),
    (0.089, 0.098, .007, .005), (0.078, 0.071, .006, .004), (0.064, 0.058, .006, .004),
    (0.058, 0.065, .005, .004), (0.066, 0.074, .006, .004), (0.048, 0.055, .004, .003),
    (0.038, 0.046, .004, .003), (0.027, 0.034, .003, .002), (0.020, 0.029, .002, .002),
    (0.015, 0.023, .002, .002), (0.024, 0.019, .002, .002),
]


def split(pts):
    return [np.array(c) for c in zip(*pts)]


plt.rcParams["font.family"] = "DejaVu Sans"
fig, axes = plt.subplots(2, 2, figsize=(9.09, 5.77), dpi=100, sharex="col")
fig.subplots_adjust(left=0.044, right=0.987, bottom=0.057, top=0.969,
                    wspace=0.127, hspace=0.174)

TITLE_FS, LABEL_FS, TICK_FS, LEG_FS = 10.1, 8.6, 5.6, 5.4


def style(ax):
    ax.grid(True, color="#b0b0b0", alpha=0.35, linewidth=0.7)
    ax.tick_params(labelsize=TICK_FS, length=2.5, width=0.6)
    for sp in ax.spines.values():
        sp.set_linewidth(1.0)
        sp.set_color("#222222")


def weight_shift(ax, left_pts, right_pts, title, ylabel, left_lab, right_lab, ylim):
    lx, ly = split(left_pts)
    rx, ry = split(right_pts)
    ax.scatter(lx, ly, s=14, color="C0", linewidths=0, label=left_lab)
    ax.scatter(rx, ry, s=14, color="C1", alpha=0.6, linewidths=0, label=right_lab)
    ax.set_title(title, fontsize=TITLE_FS, pad=3)
    ax.set_xlabel("Weight", fontsize=LABEL_FS, labelpad=2)
    ax.set_ylabel(ylabel, fontsize=LABEL_FS, labelpad=3)
    ax.set_ylim(*ylim)
    ax.legend(loc="upper right", fontsize=LEG_FS, markerscale=0.8)
    style(ax)


def left_vs_right(ax, pts, title, xlabel, ylabel, lab, ylim):
    x, y, xe, ye = split(pts)
    ax.errorbar(x, y, xerr=xe, yerr=ye, fmt="none", ecolor="C0", alpha=0.3,
                elinewidth=1.2, zorder=2)
    ax.scatter(x, y, s=12, color="C0", linewidths=0, zorder=3, label=lab)
    ax.plot([-0.02, 0.23], [-0.02, 0.23], "k--", lw=1.1, zorder=4, label="Diagonal")
    ax.set_title(title, fontsize=TITLE_FS, pad=3)
    ax.set_xlabel(xlabel, fontsize=LABEL_FS, labelpad=2)
    ax.set_ylabel(ylabel, fontsize=LABEL_FS, labelpad=3)
    ax.set_ylim(*ylim)
    ax.legend(loc="upper left", fontsize=LEG_FS, markerscale=0.8)
    style(ax)


weight_shift(axes[0, 0], inner_left_pts, inner_right_pts,
             "Inner Sidelobe Weights vs Inner Sidelobe Mean Shift",
             "Inner Sidelobe Mean Shift",
             "Inner Left Sidelobe Weight", "Inner Right Sidelobe Weight", (6.87, 33.0))
weight_shift(axes[1, 0], outer_left_pts, outer_right_pts,
             "Outer Sidelobe Weights vs Outer Sidelobe Mean Shift",
             "Outer Sidelobe Mean Shift",
             "Outer Left Sidelobe Weight", "Outer Right Sidelobe Weight", (12.66, 69.4))
axes[1, 0].set_xlim(-0.0078, 0.2157)
axes[1, 0].set_xticks([0.0, 0.05, 0.10, 0.15, 0.20])

left_vs_right(axes[0, 1], inner_lr_pts,
              "Inner Left Sidelobe Weight vs Inner Right Sidelobe Weight",
              "Inner Left Sidelobe Weight", "Inner Right Sidelobe Weight",
              "Inner Left Sidelobe Weight", (-0.008, 0.2157))
left_vs_right(axes[1, 1], outer_lr_pts,
              "Outer Left Sidelobe Weight vs Outer Right Sidelobe Weight",
              "Outer Left Sidelobe Weight", "Outer Right Sidelobe Weight",
              "Outer Left Sidelobe Weight", (-0.0077, 0.216))
axes[1, 1].set_xlim(-0.008, 0.216)
axes[1, 1].set_xticks([0.0, 0.05, 0.10, 0.15, 0.20])
for ax in axes[:, 1]:
    ax.set_yticks([0.0, 0.025, 0.05, 0.075, 0.1, 0.125, 0.15, 0.175, 0.2])
    ax.yaxis.set_major_formatter(matplotlib.ticker.FormatStrFormatter("%.3f"))

fig.savefig("out.png", dpi=100)
